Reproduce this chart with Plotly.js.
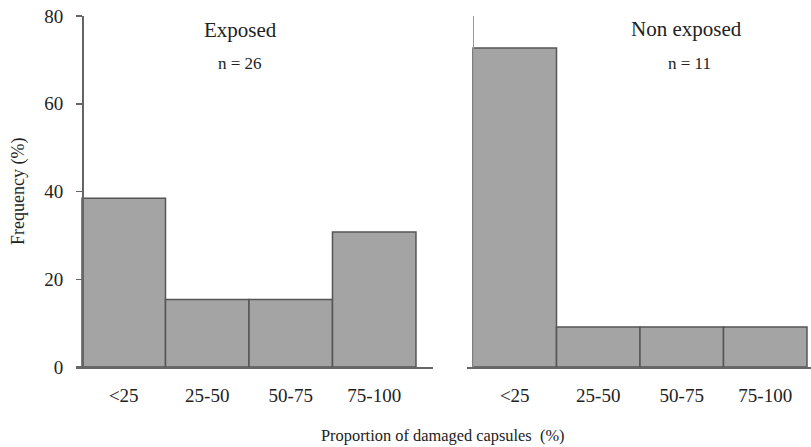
<!DOCTYPE html>
<html>
<head>
<meta charset="utf-8">
<script src="https://cdn.plot.ly/plotly-3.0.1.min.js"></script>
<style>html,body{margin:0;padding:0;background:#fff;}#chart{width:811px;height:447px;}</style>
</head>
<body>
<div id="chart"></div>
<script>
var categories = ["<25", "25-50", "50-75", "75-100"];
var exposedValues = [38.46, 15.38, 15.38, 30.77];
var nonExposedValues = [72.73, 9.09, 9.09, 9.09];
var panelTitles = ["Exposed", "Non exposed"];
var panelCounts = ["n = 26", "n = 11"];
var yTicks = [0, 20, 40, 60, 80];

var W = 811, H = 447;
var font = "Liberation Serif, Times New Roman, serif";
var barStyle = {color: "#a4a4a4", line: {color: "#555555", width: 1.5}};

var traces = [
  {type: "bar", x: categories, y: exposedValues, xaxis: "x", yaxis: "y", width: 1, marker: barStyle, hoverinfo: "x+y"},
  {type: "bar", x: categories, y: nonExposedValues, xaxis: "x2", yaxis: "y2", width: 1, marker: barStyle, hoverinfo: "x+y"}
];

var yDomain = [(H - 367) / H, (H - 16) / H];
var axisFont = {family: font, size: 19, color: "#222"};

function ann(x, y, text, size, angle) {
  return {xref: "paper", yref: "paper", x: x / W, y: 1 - y / H, xanchor: "center", yanchor: "middle",
          text: text, showarrow: false, textangle: angle || 0,
          font: {family: font, size: size, color: "#222"}};
}

var layout = {
  width: W, height: H,
  margin: {l: 0, r: 0, t: 0, b: 0},
  paper_bgcolor: "#fff", plot_bgcolor: "rgba(0,0,0,0)",
  showlegend: false,
  bargap: 0,
  font: {family: font, color: "#222"},
  xaxis: {
    domain: [76 / W, 433 / W], type: "category", categoryorder: "array", categoryarray: categories,
    range: [-0.572, 3.704], showline: true, linecolor: "#666", linewidth: 1.5,
    ticks: "", tickfont: axisFont, ticklabelstandoff: 11, showgrid: false, zeroline: false,
    anchor: "y", fixedrange: true
  },
  yaxis: {
    domain: yDomain, range: [0, 80], tickvals: yTicks, anchor: "free", position: 82 / W,
    showline: true, linecolor: "#666", linewidth: 1.5, ticks: "outside", ticklen: 6,
    tickcolor: "#666", tickwidth: 1.5, tickfont: axisFont, ticklabelstandoff: 9,
    showgrid: false, zeroline: false, fixedrange: true
  },
  xaxis2: {
    domain: [467 / W, 1], type: "category", categoryorder: "array", categoryarray: categories,
    range: [-0.572, 3.548], showline: true, linecolor: "#666", linewidth: 1.5,
    ticks: "", tickfont: axisFont, ticklabelstandoff: 11, showgrid: false, zeroline: false,
    anchor: "y2", fixedrange: true
  },
  yaxis2: {
    domain: yDomain, range: [0, 80], anchor: "free", position: 473 / W,
    showline: true, linecolor: "#999", linewidth: 1, ticks: "", showticklabels: false,
    showgrid: false, zeroline: false, fixedrange: true
  },
  annotations: [
    ann(240, 30, panelTitles[0], 21),
    ann(240, 64, panelCounts[0], 17),
    ann(686, 29, panelTitles[1], 21),
    ann(689, 64, panelCounts[1], 17),
    ann(443, 435, "Proportion of damaged capsules&nbsp;&nbsp;(%)", 16.4),
    ann(18, 192, "Frequency (%)", 18, -90)
  ]
};

Plotly.newPlot("chart", traces, layout, {displayModeBar: false, staticPlot: true});
</script>
</body>
</html>
